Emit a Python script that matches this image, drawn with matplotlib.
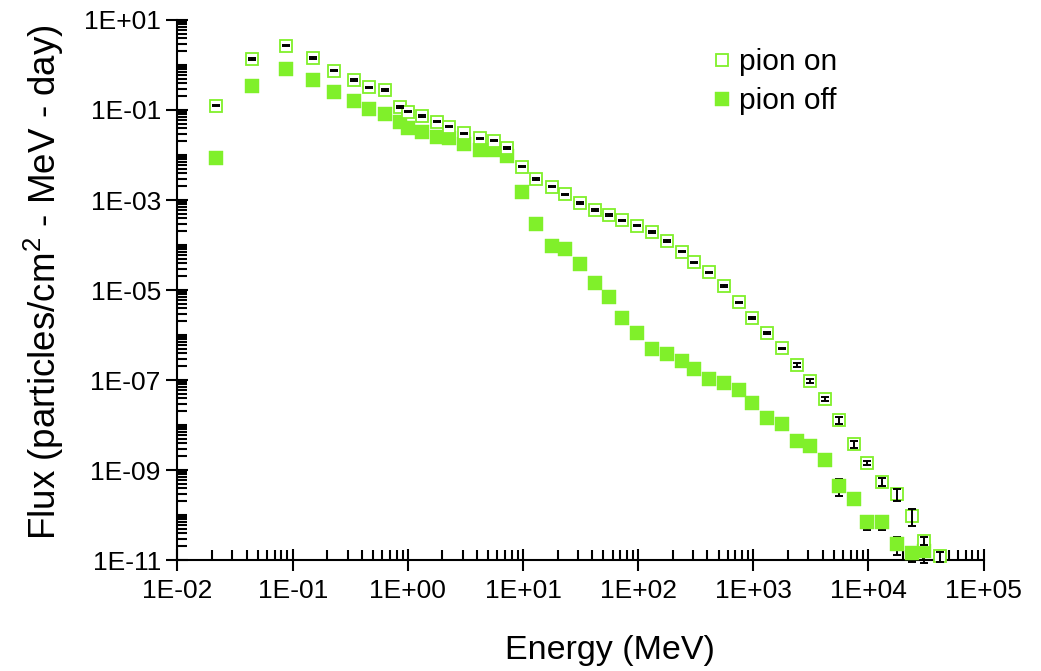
import numpy as np
import matplotlib
matplotlib.use('Agg')
import matplotlib.pyplot as plt
from matplotlib.ticker import LogLocator, FixedLocator, FuncFormatter, NullFormatter

# --- Data ---
energy = [0.0215, 0.044, 0.087, 0.15, 0.23, 0.34, 0.46, 0.64, 0.86, 1.0,
          1.34, 1.8, 2.3, 3.1, 4.2, 5.6, 7.3, 9.8, 13, 18,
          23, 31, 42, 56, 72, 98, 132, 178, 240, 307,
          415, 560, 756, 975, 1315, 1775, 2400, 3085, 4160, 5580,
          7530, 9730, 13100, 17700, 23900, 30600, 41600]

flux_on = [0.125, 1.36, 2.69, 1.43, 0.747, 0.471, 0.319, 0.282, 0.118, 0.0917,
           0.0736, 0.055, 0.0426, 0.0303, 0.0235, 0.0208, 0.0145, 0.0055, 2.93e-3, 1.98e-3,
           1.34e-3, 8.7e-4, 6.0e-4, 4.64e-4, 3.54e-4, 2.69e-4, 1.92e-4, 1.23e-4, 7.1e-5, 4.13e-5,
           2.47e-5, 1.23e-5, 5.33e-6, 2.42e-6, 1.12e-6, 5.06e-7, 2.21e-7, 9.35e-8, 3.86e-8, 1.29e-8,
           3.78e-9, 1.41e-9, 5.5e-10, 2.88e-10, 9.6e-11, 2.69e-11, 1.21e-11]

flux_off = [8.45e-3, 0.347, 0.815, 0.457, 0.251, 0.161, 0.105, 0.0827, 0.0533, 0.0392,
            0.0319, 0.0255, 0.0235, 0.0173, 0.0129, 0.0127, 9.64e-3, 1.48e-3, 2.93e-4, 9.64e-5,
            8.0e-5, 3.73e-5, 1.41e-5, 7.1e-6, 2.42e-6, 1.12e-6, 4.8e-7, 3.78e-7, 2.69e-7, 1.76e-7,
            1.04e-7, 8.45e-8, 6.0e-8, 3.13e-8, 1.45e-8, 1.05e-8, 4.48e-9, 3.47e-9, 1.67e-9, 4.48e-10,
            2.27e-10, 6.99e-11, 6.99e-11, 2.23e-11, 1.4e-11, 1.6e-11]

# relative errors
err_on = [0.04] * 36 + [0.1, 0.1, 0.1, 0.18, 0.18, 0.1, 0.2, 0.3, 0.42, 0.2, 0.25]
err_off = [0.04] * 39 + [0.4, 0.05, 0.35, 0.35, 0.43, 0.36, 0.45]

y_major = [1e1, 1e-1, 1e-3, 1e-5, 1e-7, 1e-9, 1e-11]

green = '#80F02A'

plt.rcParams['font.family'] = ['Liberation Sans', 'DejaVu Sans']
plt.rcParams['mathtext.fontset'] = 'custom'
plt.rcParams['mathtext.rm'] = 'Liberation Sans'
plt.rcParams['mathtext.default'] = 'regular'

fig = plt.figure(figsize=(10.41, 6.71), dpi=100)
ax = fig.add_axes([0.1705, 0.1654, 0.7743, 0.8048])

e_off = np.array(energy[:len(flux_off)])
f_off = np.array(flux_off)
e_on = np.array(energy)
f_on = np.array(flux_on)

# pion off: error bars under filled markers
ax.errorbar(e_off, f_off, yerr=f_off * np.array(err_off), fmt='none', ecolor='black',
            elinewidth=1.4, capsize=3, capthick=1.4, zorder=2, clip_on=False)
ax.plot(e_off, f_off, linestyle='none', marker='s', markersize=9.6, markerfacecolor=green,
        markeredgecolor=green, markeredgewidth=0.3, zorder=3, clip_on=False, label='pion off')

# pion on: open markers with error bars on top
ax.plot(e_on, f_on, linestyle='none', marker='s', markersize=8.4, markerfacecolor='white',
        markeredgecolor=green, markeredgewidth=1.3, zorder=4, clip_on=False, label='pion on')
ax.errorbar(e_on, f_on, yerr=f_on * np.array(err_on), fmt='none', ecolor='black',
            elinewidth=1.4, capsize=3, capthick=1.4, zorder=5, clip_on=False)

ax.set_xscale('log')
ax.set_yscale('log')
ax.set_xlim(1e-2, 1e5)
ax.set_ylim(1e-11, 1e1)

fmt = FuncFormatter(lambda v, p: f"1E{int(round(np.log10(v))):+03d}")
ax.xaxis.set_major_locator(LogLocator(base=10, numticks=20))
ax.yaxis.set_major_locator(FixedLocator(y_major))
ax.xaxis.set_minor_locator(LogLocator(base=10, subs=np.arange(2, 10), numticks=100))
ax.yaxis.set_minor_locator(LogLocator(base=10, subs=np.arange(1, 10), numticks=100))
ax.xaxis.set_major_formatter(fmt)
ax.yaxis.set_major_formatter(fmt)
ax.xaxis.set_minor_formatter(NullFormatter())
ax.yaxis.set_minor_formatter(NullFormatter())

ax.tick_params(which='major', direction='inout', length=16, width=1.5, labelsize=19, pad=4)
ax.tick_params(axis='x', which='major', pad=6)
ax.tick_params(which='minor', direction='in', length=7, width=1.5)

for s in ['top', 'right']:
    ax.spines[s].set_visible(False)
for s in ['left', 'bottom']:
    ax.spines[s].set_linewidth(1.5)

ax.set_xlabel('Energy (MeV)', fontsize=24.5)
ax.set_ylabel('Flux (particles/cm$^{2}$ - MeV - day)', fontsize=26.5)
ax.xaxis.set_label_coords(0.537, -0.138)
ax.yaxis.set_label_coords(-0.138, 0.515)

handles, labels = ax.get_legend_handles_labels()
ax.legend(handles[::-1], labels[::-1], loc='upper left', bbox_to_anchor=(0.649, 0.970),
          frameon=False, fontsize=21.5, numpoints=1, handlelength=0.6, handletextpad=0.3,
          labelspacing=0.37, borderaxespad=0)

fig.savefig('out.png', dpi=100)
